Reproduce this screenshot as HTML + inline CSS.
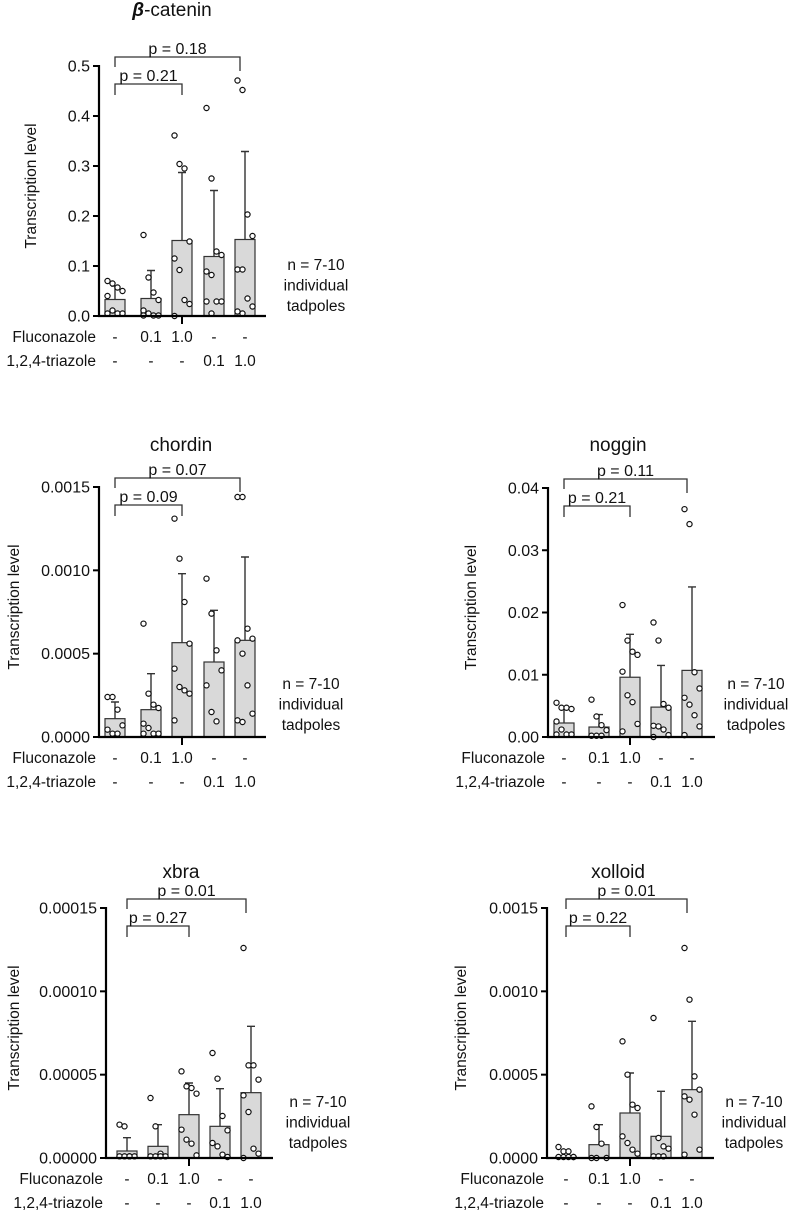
<!DOCTYPE html>
<html><head><meta charset="utf-8">
<style>
html,body{margin:0;padding:0;background:#fff;}
svg{display:block;font-family:"Liberation Sans",sans-serif;}
</style></head>
<body>
<svg id="fig" width="794" height="1211" viewBox="0 0 794 1211" xmlns="http://www.w3.org/2000/svg"></svg>
<script>
const groups = ["ctrl","flu-0.1","flu-1.0","tri-0.1","tri-1.0"];
const fluLabels = ["-","0.1","1.0","-","-"];
const triLabels = ["-","-","-","0.1","1.0"];

const betaTicks = ["0.0","0.1","0.2","0.3","0.4","0.5"];
const betaMax = 0.5;
const betaMeans = [0.033,0.035,0.151,0.119,0.153];
const betaErr = [0.06,0.091,0.287,0.251,0.329];
const betaPts = [[0.07,0.065,0.057,0.05,0.04,0.011,0.005,0.005,0.005],[0.162,0.077,0.047,0.032,0.011,0.005,0.001,0.001,0.001],[0.361,0.304,0.295,0.149,0.115,0.092,0.032,0.024,0.0],[0.416,0.275,0.129,0.122,0.089,0.082,0.029,0.029,0.029,0.005],[0.471,0.452,0.203,0.16,0.093,0.093,0.035,0.019,0.009,0.005]];
const betaP = ["p = 0.21","p = 0.18"];

const chordinTicks = ["0.0000","0.0005","0.0010","0.0015"];
const chordinMax = 0.0015;
const chordinMeans = [0.00011,0.000164,0.000566,0.00045,0.00058];
const chordinErr = [0.00021,0.00038,0.00098,0.00076,0.00108];
const chordinPts = [[0.00024,0.00024,0.000164,0.00007,0.000044,0.00002,0.00002],[0.00068,0.00026,0.000194,0.000174,0.00008,0.000054,0.00002,0.00002,0.00002],[0.00131,0.00107,0.00081,0.00056,0.00041,0.0003,0.00028,0.00026,0.0001],[0.00095,0.00074,0.00052,0.0004,0.00031,0.00015,0.000094],[0.00144,0.00144,0.00065,0.00059,0.00058,0.0005,0.00031,0.00014,0.0001,0.00009]];
const chordinP = ["p = 0.09","p = 0.07"];

const nogginTicks = ["0.00","0.01","0.02","0.03","0.04"];
const nogginMax = 0.04;
const nogginMeans = [0.00225,0.0016,0.0096,0.0048,0.0107];
const nogginErr = [0.0045,0.0036,0.0165,0.0115,0.0241];
const nogginPts = [[0.0055,0.0047,0.0047,0.0045,0.0025,0.0012,0.0004,0.0004,0.0004],[0.006,0.0033,0.0019,0.0011,0.0002,0.0002,0.0002],[0.0212,0.0155,0.0137,0.0132,0.0105,0.0067,0.0056,0.0021,0.0009],[0.0184,0.0155,0.0053,0.0047,0.0018,0.0017,0.0012,0.0003,0.0],[0.0366,0.0342,0.0104,0.0078,0.0063,0.0052,0.0035,0.0017,0.0003]];
const nogginP = ["p = 0.21","p = 0.11"];

const xbraTicks = ["0.00000","0.00005","0.00010","0.00015"];
const xbraMax = 0.00015;
const xbraMeans = [0.0000042,0.000007,0.000026,0.000019,0.0000392];
const xbraErr = [0.0000122,0.00002,0.000045,0.0000416,0.000079];
const xbraPts = [[0.00002,0.000019,0.000001,0.000001,0.000001,0.000001,0.000001],[0.000036,0.000019,0.0000026,0.000001,0.000001,0.000001,0.000001],[0.000052,0.000043,0.000042,0.0000386,0.000017,0.000011,0.0000086,0.0000016],[0.000063,0.0000476,0.0000252,0.0000166,0.000009,0.000007,0.000002,0.0000006],[0.000126,0.0000556,0.0000556,0.000047,0.0000376,0.0000276,0.0000056,0.0000026,0.0]];
const xbraP = ["p = 0.27","p = 0.01"];

const xolloidTicks = ["0.0000","0.0005","0.0010","0.0015"];
const xolloidMax = 0.0015;
const xolloidMeans = [0.000006,0.00008,0.00027,0.00013,0.00041];
const xolloidErr = [0.000006,0.0002,0.00051,0.0004,0.00082];
const xolloidPts = [[0.000066,0.00004,0.00004,0.000006,0.000006,0.000006,0.000006,0.000006],[0.00031,0.000186,0.000086,0.0,0.0,0.0],[0.0007,0.0005,0.00032,0.0003,0.00013,0.00009,0.00005,0.000026],[0.00084,0.00012,0.00007,0.000056,0.00001,0.00001,0.00001],[0.00126,0.00095,0.00049,0.00041,0.00037,0.00035,0.00026,0.00005,0.00002]];
const xolloidP = ["p = 0.22","p = 0.01"];

const NS = "http://www.w3.org/2000/svg";
const svg = document.getElementById("fig");
const FS = "15.5";
function mk(tag, attrs, parent, text){
  const e = document.createElementNS(NS, tag);
  for (const k in attrs) e.setAttribute(k, attrs[k]);
  if (text !== undefined) e.textContent = text;
  parent.appendChild(e);
  return e;
}

function panel(cfg){
  const g = mk("g", {}, svg);
  
  
  const ax = cfg.ax, top = cfg.top, y0 = cfg.y0;
  const yScale = v => y0 - v / cfg.max * (y0 - top);
  const xs = i => ax + cfg.offs[i];

  const t = mk("text", {x: cfg.titleX, y: cfg.titleY, "text-anchor":"middle", "font-size":"19", fill:"#111"}, g);
  
  
  if (cfg.beta){
    mk("tspan", {"font-weight":"bold","font-style":"italic"}, t, "β");
    mk("tspan", {}, t, "-catenin");
  } else t.textContent = cfg.name;

  for (let i = 0; i < groups.length; i++){
    const cx = xs(i);
    const by = yScale(cfg.means[i]);
    const bar = mk("rect", {x: cx-10, y: by, width: 20, height: y0-by, fill:"#d9d9d9", stroke:"#333", "stroke-width":"1.2"}, g);
    
    
    const ey = yScale(cfg.err[i]);
    const eb = mk("path", {d:`M${cx},${by}V${ey}M${cx-4},${ey}H${cx+4}`, stroke:"#333", "stroke-width":"1.4", fill:"none"}, g);
    
    
  }
  for (let i = 0; i < groups.length; i++){
    const pts = cfg.pts[i];
    for (let j = 0; j < pts.length; j++){
      const dx = ((j % 4) - 1.5) * 5;
      const c = mk("circle", {cx: xs(i)+dx, cy: yScale(pts[j]), r: 2.6, fill:"#fff", stroke:"#111", "stroke-width":"1.2"}, g);
      
      
    }
  }
  const yaxis = mk("line", {x1: ax, y1: top-1, x2: ax, y2: y0+1, stroke:"#000", "stroke-width":"2.2"}, g);
  
  
  const xaxis = mk("line", {x1: ax-1, y1: y0, x2: ax+167, y2: y0, stroke:"#000", "stroke-width":"2.2"}, g);
  
  
  mk("line", {x1: xs(2), y1: y0, x2: xs(2), y2: y0+8, stroke:"#000", "stroke-width":"2"}, g);
  for (let k = 0; k < cfg.ticks.length; k++){
    const v = cfg.max * k / (cfg.ticks.length - 1);
    const y = yScale(v);
    mk("line", {x1: ax-6, y1: y, x2: ax, y2: y, stroke:"#000", "stroke-width":"2"}, g);
    const tl = mk("text", {x: ax-9, y: y+5.5, "text-anchor":"end", "font-size":"16", fill:"#111"}, g, cfg.ticks[k]);
    
    
  }
  const yt = mk("text", {x: 0, y: 0, transform:`translate(${cfg.ytX},${(top+y0)/2-5}) rotate(-90)`, "text-anchor":"middle", "font-size":FS, fill:"#111"}, g, "Transcription level");
  
  

  const r1 = mk("text", {x: ax-3, y: y0+26, "text-anchor":"end", "font-size":FS, fill:"#111"}, g, "Fluconazole");
  
  
  const r2 = mk("text", {x: ax-3, y: y0+50, "text-anchor":"end", "font-size":FS, fill:"#111"}, g, "1,2,4-triazole");
  
  
  for (let i = 0; i < groups.length; i++){
    const a = mk("text", {x: xs(i), y: y0+26, "text-anchor":"middle", "font-size":FS, fill:"#111"}, g, fluLabels[i]);
    
    
    const b = mk("text", {x: xs(i), y: y0+50, "text-anchor":"middle", "font-size":FS, fill:"#111"}, g, triLabels[i]);
    
    
  }

  const x1 = xs(0), x3 = xs(2), x5 = xs(4) - 5;
  const ob = top - 9, ib = top + 18;
  const br1 = mk("path", {d:`M${x1},${ob+10}V${ob}H${x5}V${ob+14}`, stroke:"#333", "stroke-width":"1.3", fill:"none"}, g);
  
  
  const br2 = mk("path", {d:`M${x1},${ib+11}V${ib}H${x3}V${ib+11}`, stroke:"#333", "stroke-width":"1.3", fill:"none"}, g);
  
  
  const p2 = mk("text", {x: (x1+x5)/2, y: ob-3, "text-anchor":"middle", "font-size":"16", fill:"#111"}, g, cfg.p[1]);
  
  
  const p1 = mk("text", {x: (x1+x3)/2, y: ib-3, "text-anchor":"middle", "font-size":"16", fill:"#111"}, g, cfg.p[0]);
  
  

  const lines = ["n = 7-10","individual","tadpoles"];
  for (let k = 0; k < 3; k++){
    const n = mk("text", {x: cfg.nX, y: cfg.nY + k*20.5, "text-anchor":"middle", "font-size":FS, fill:"#111"}, g, lines[k]);
    
    
  }
}

const offsA = [16,52,83,115,146];
panel({name:"beta-catenin", beta:true, ax:99, top:66, y0:316, max:betaMax, ticks:betaTicks, means:betaMeans, err:betaErr, pts:betaPts, p:betaP, offs:offsA, titleX:172, titleY:16, ytX:36, nX:316, nY:270});
panel({name:"chordin", ax:99, top:487, y0:737, max:chordinMax, ticks:chordinTicks, means:chordinMeans, err:chordinErr, pts:chordinPts, p:chordinP, offs:offsA, titleX:181, titleY:451, ytX:19, nX:311, nY:689});
panel({name:"noggin", ax:548, top:488, y0:737, max:nogginMax, ticks:nogginTicks, means:nogginMeans, err:nogginErr, pts:nogginPts, p:nogginP, offs:[16,51,82,113,144], titleX:618, titleY:451, ytX:476, nX:756, nY:689});
panel({name:"xbra", ax:106, top:908, y0:1158, max:xbraMax, ticks:xbraTicks, means:xbraMeans, err:xbraErr, pts:xbraPts, p:xbraP, offs:[21,52,83,114,145], titleX:181, titleY:878, ytX:19, nX:318, nY:1107});
panel({name:"xolloid", ax:547, top:908, y0:1158, max:xolloidMax, ticks:xolloidTicks, means:xolloidMeans, err:xolloidErr, pts:xolloidPts, p:xolloidP, offs:[19,52,83,114,145], titleX:618, titleY:878, ytX:466, nX:754, nY:1107});
</script>
</body></html>
